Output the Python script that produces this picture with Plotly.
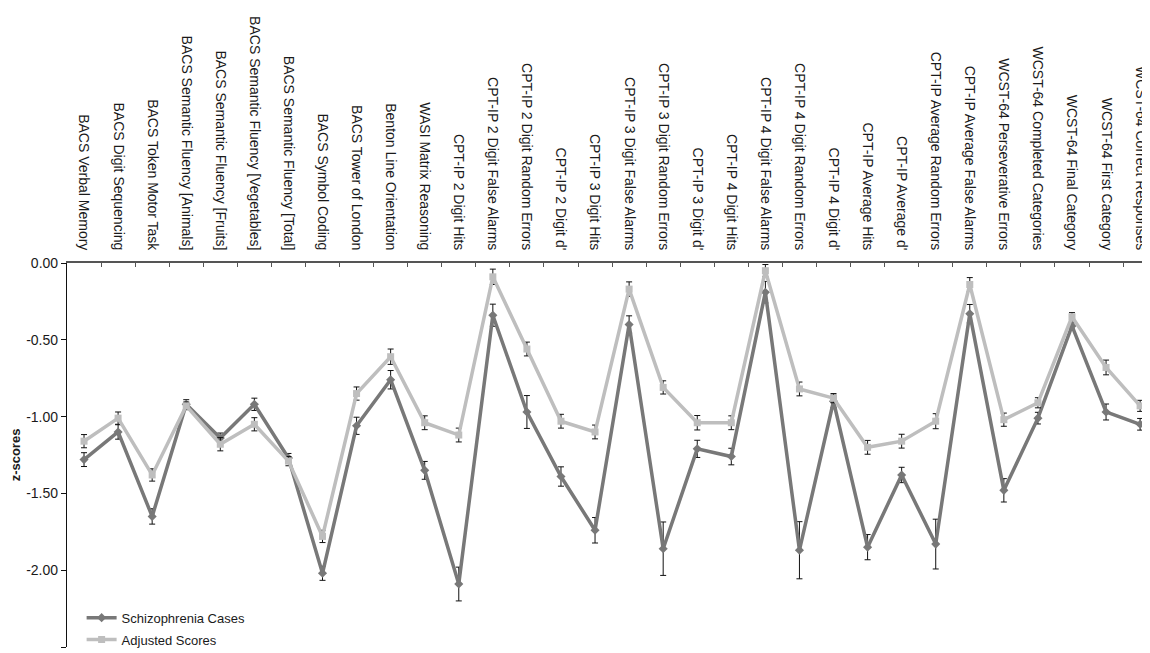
import plotly.graph_objects as go

categories = [
    "BACS Verbal Memory", "BACS Digit Sequencing", "BACS Token Motor Task",
    "BACS Semantic Fluency [Animals]", "BACS Semantic Fluency [Fruits]",
    "BACS Semantic Fluency [Vegetables]", "BACS Semantic Fluency [Total]",
    "BACS Symbol Coding", "BACS Tower of London", "Benton Line Orientation",
    "WASI Matrix Reasoning", "CPT-IP 2 Digit Hits", "CPT-IP 2 Digit False Alarms",
    "CPT-IP 2 Digit Random Errors", "CPT-IP 2 Digit d'", "CPT-IP 3 Digit Hits",
    "CPT-IP 3 Digit False Alarms", "CPT-IP 3 Digit Random Errors", "CPT-IP 3 Digit d'",
    "CPT-IP 4 Digit Hits", "CPT-IP 4 Digit False Alarms", "CPT-IP 4 Digit Random Errors",
    "CPT-IP 4 Digit d'", "CPT-IP Average Hits", "CPT-IP Average d'",
    "CPT-IP Average Random Errors", "CPT-IP Average False Alarms",
    "WCST-64 Perseverative Errors", "WCST-64 Completed Categories",
    "WCST-64 Final Category", "WCST-64 First Category", "WCST-64 Correct Responses",
]

schizophrenia = [-1.28, -1.10, -1.65, -0.92, -1.14, -0.92, -1.27, -2.02, -1.06, -0.76,
                 -1.35, -2.09, -0.34, -0.97, -1.39, -1.74, -0.40, -1.86, -1.21, -1.26,
                 -0.19, -1.87, -0.90, -1.85, -1.38, -1.83, -0.33, -1.48, -1.01, -0.41,
                 -0.97, -1.05]
schizophrenia_err = [0.045, 0.047, 0.05, 0.03, 0.033, 0.04, 0.03, 0.046, 0.056, 0.06,
                     0.058, 0.11, 0.072, 0.107, 0.063, 0.083, 0.056, 0.174, 0.056, 0.054,
                     0.07, 0.186, 0.04, 0.082, 0.05, 0.162, 0.06, 0.076, 0.038, 0.02,
                     0.052, 0.038]

adjusted = [-1.16, -1.01, -1.38, -0.93, -1.18, -1.05, -1.29, -1.78, -0.85, -0.61,
            -1.04, -1.12, -0.09, -0.56, -1.03, -1.10, -0.17, -0.81, -1.04, -1.04,
            -0.05, -0.82, -0.88, -1.20, -1.16, -1.03, -0.14, -1.02, -0.91, -0.35,
            -0.68, -0.93]
adjusted_err = [0.043, 0.04, 0.04, 0.025, 0.043, 0.043, 0.03, 0.04, 0.043, 0.05,
                0.045, 0.045, 0.05, 0.045, 0.045, 0.045, 0.047, 0.043, 0.047, 0.045,
                0.04, 0.045, 0.03, 0.045, 0.045, 0.049, 0.045, 0.043, 0.033, 0.027,
                0.048, 0.036]

y_tickvals = [0.0, -0.5, -1.0, -1.5, -2.0, -2.5]
y_ticktext = ["0.00", "-0.50", "-1.00", "-1.50", "-2.00", "-2.50"]

FONT = "Liberation Sans, Arial, Helvetica, sans-serif"
DARK = "#787878"
LIGHT = "#bebebe"

fig = go.Figure()
fig.add_trace(go.Scatter(
    x=categories, y=schizophrenia, name="Schizophrenia Cases", mode="lines+markers",
    legendgroup="a",
    line=dict(color=DARK, width=3.5),
    marker=dict(symbol="diamond", size=7, color=DARK),
    error_y=dict(type="data", array=schizophrenia_err, color="#111111", thickness=1, width=3),
))
fig.add_trace(go.Scatter(
    x=categories, y=adjusted, name="Adjusted Scores", mode="lines+markers",
    legendgroup="b",
    line=dict(color=LIGHT, width=3.5),
    marker=dict(symbol="square", size=7, color=LIGHT),
    error_y=dict(type="data", array=adjusted_err, color="#111111", thickness=1, width=3),
))

fig.update_layout(
    width=1142, height=645,
    margin=dict(l=59, r=0, t=255, b=6, autoexpand=False),
    paper_bgcolor="white", plot_bgcolor="white",
    font=dict(family=FONT, size=14, color="#1a1a1a"),
    showlegend=True,
    legend=dict(x=0.0135, y=-0.02, xanchor="left", yanchor="bottom",
                bgcolor="rgba(0,0,0,0)", font=dict(size=13), itemwidth=30,
                tracegroupgap=2),
)
fig.update_xaxes(
    type="category", side="top", range=[-0.5, 31.29], automargin=False,
    tickangle=90, tickson="boundaries", ticks="inside", ticklen=4,
    tickcolor="#555555", showline=True, linecolor="#555555", linewidth=1.5,
    showgrid=False, zeroline=False, tickfont=dict(size=14, family=FONT),
    ticklabelstandoff=6,
)
fig.update_yaxes(
    range=[-2.5, 0], tickvals=y_tickvals, ticktext=y_ticktext, automargin=False,
    ticks="outside", ticklen=5, tickcolor="#111111",
    showline=True, linecolor="#111111", linewidth=1.2,
    showgrid=False, zeroline=False, tickfont=dict(size=14, family=FONT),
    title=dict(text="<b>z-scores</b>", font=dict(size=13, family=FONT), standoff=5),
)

fig.write_html("out.html")
